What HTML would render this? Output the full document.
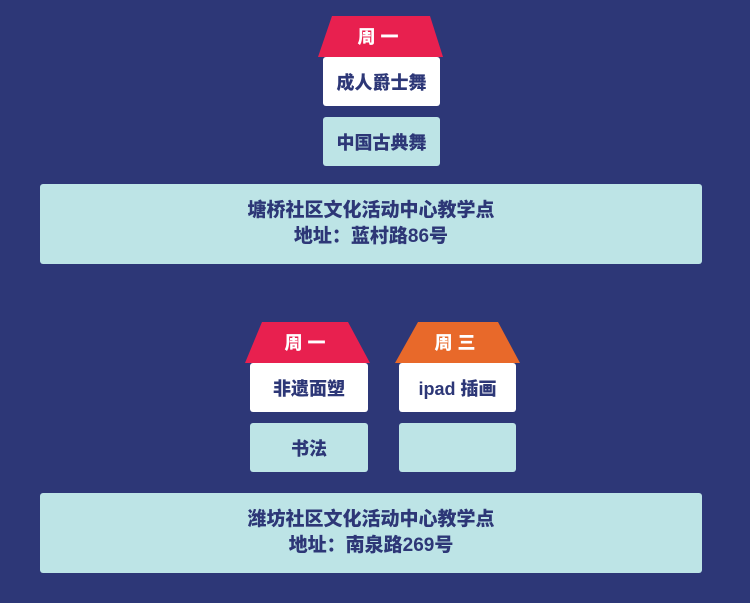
<!DOCTYPE html>
<html><head><meta charset="utf-8"><style>
body{margin:0;width:750px;height:603px;background:#2d3777;position:relative;overflow:hidden;font-family:"Liberation Sans","Noto Sans CJK SC",sans-serif;font-weight:900;color:#2d3777}
.b{position:absolute;display:flex;align-items:center;justify-content:center;text-align:center;border-radius:3px}
.w{background:#fff}.t{background:#bde4e6}
.roof{position:absolute;display:flex;align-items:center;justify-content:center;color:#fff;font-size:18px;letter-spacing:5px}
</style></head><body>
<svg width="750" height="603" style="position:absolute;left:0;top:0">
<polygon points="332,16 430,16 443,57 318,57" fill="#e8204f"/>
<polygon points="262,322 348,322 370,363 245,363" fill="#e8204f"/>
<polygon points="418,322 498,322 520,363 395,363" fill="#e8692a"/>
</svg>
<div class="roof" style="left:318px;top:20px;width:125px;height:32px">周一</div>
<div class="roof" style="left:245px;top:326px;width:125px;height:32px">周一</div>
<div class="roof" style="left:395px;top:326px;width:125px;height:32px">周三</div>
<div class="b w" style="left:323px;top:57px;width:117px;height:49px;font-size:18px">成人爵士舞</div>
<div class="b t" style="left:323px;top:117px;width:117px;height:49px;font-size:18px">中国古典舞</div>
<div class="b t" style="left:40px;top:184px;width:662px;height:80px;font-size:19px;line-height:26px">塘桥社区文化活动中心教学点<br>地址：蓝村路86号</div>
<div class="b w" style="left:250px;top:363px;width:118px;height:49px;font-size:18px">非遗面塑</div>
<div class="b t" style="left:250px;top:423px;width:118px;height:49px;font-size:18px">书法</div>
<div class="b w" style="left:399px;top:363px;width:117px;height:49px;font-size:18px">ipad 插画</div>
<div class="b t" style="left:399px;top:423px;width:117px;height:49px"></div>
<div class="b t" style="left:40px;top:493px;width:662px;height:80px;font-size:19px;line-height:26px">潍坊社区文化活动中心教学点<br>地址：南泉路269号</div>
</body></html>
